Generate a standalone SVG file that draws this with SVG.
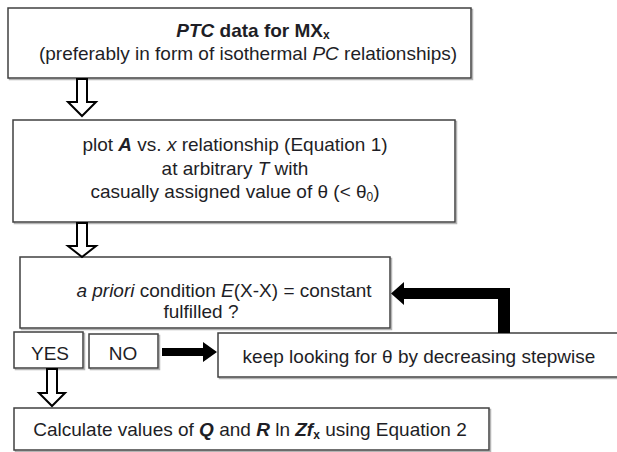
<svg xmlns="http://www.w3.org/2000/svg" width="617" height="452" viewBox="0 0 617 452">
<style>
  .box { fill: #ffffff; stroke: #404040; stroke-width: 1.5; }
  .shadow { fill: none; stroke: #b4b4b4; stroke-width: 1.5; }
  .t { font-family: "Liberation Sans", Arial, sans-serif; font-size: 19px; fill: #1e1e26; text-anchor: middle; }
  .hollow { fill: #ffffff; stroke: #000000; stroke-width: 2; stroke-linejoin: miter; }
  .solid { fill: #000000; stroke: none; }
  .i { font-style: italic; }
  .bi { font-style: italic; font-weight: bold; }
  .sub { font-size: 12px; }
</style>
<rect width="617" height="452" fill="#ffffff"/>

<g id="node-ptc-data">
  <rect class="shadow" x="9.5" y="9.5" width="463" height="70"/>
  <rect class="box" x="8" y="8" width="463" height="70"/>
  <text class="t" x="253" y="37" font-weight="bold" font-size="18"><tspan class="i">PTC</tspan> data for MX<tspan class="sub" dy="2">x</tspan></text>
  <text class="t" x="248" y="60" font-size="18.5">(preferably in form of isothermal <tspan class="i">PC</tspan> relationships)</text>
</g>

<g id="node-plot">
  <rect class="shadow" x="14.5" y="121.5" width="442" height="102"/>
  <rect class="box" x="13" y="120" width="442" height="102"/>
  <text class="t" x="235" y="151" font-size="23.3">plot <tspan class="bi">A</tspan> vs. <tspan class="i">x</tspan> relationship (Equation 1)</text>
  <text class="t" x="235" y="175" font-size="23.3">at arbitrary <tspan class="i">T</tspan> with</text>
  <text class="t" x="235" y="198" font-size="23.3">casually assigned value of θ (&lt; θ<tspan class="sub" font-size="14" dy="3">0</tspan><tspan dy="-3">)</tspan></text>
</g>

<g id="node-condition">
  <rect class="shadow" x="21.5" y="258.5" width="370" height="71"/>
  <rect class="box" x="20" y="257" width="370" height="71"/>
  <text class="t" x="224" y="297" font-size="17.8"><tspan class="i">a priori</tspan> condition <tspan class="i">E</tspan>(X-X) = constant</text>
  <text class="t" x="201" y="318" font-size="17.8">fulfilled ?</text>
</g>

<g id="node-yes">
  <rect class="shadow" x="15.5" y="333.5" width="69" height="36"/>
  <rect class="box" x="14" y="332" width="69" height="36"/>
  <text class="t" x="50" y="360" font-size="17">YES</text>
</g>

<g id="node-no">
  <rect class="shadow" x="90.5" y="335.5" width="69" height="34"/>
  <rect class="box" x="89" y="334" width="69" height="34"/>
  <text class="t" x="123" y="360" font-size="17.5">NO</text>
</g>

<g id="node-keep-looking">
  <rect class="shadow" x="219.5" y="334.5" width="404" height="44"/>
  <rect class="box" x="218" y="333" width="404" height="44"/>
  <text class="t" x="419" y="363" font-size="19.8">keep looking for θ by decreasing stepwise</text>
</g>

<g id="node-calculate">
  <rect class="shadow" x="15.5" y="409.5" width="475" height="42"/>
  <rect class="box" x="14" y="408" width="475" height="42"/>
  <text class="t" x="250" y="436" font-size="18.7">Calculate values of <tspan class="bi">Q</tspan> and <tspan class="bi">R</tspan> ln <tspan class="bi">Zf</tspan><tspan class="sub" font-weight="bold" dy="3">x</tspan><tspan dy="-3"> using Equation 2</tspan></text>
</g>

<g id="connectors">
  <polygon class="hollow" points="77,79 87,79 87,102 96,102 82,116 68,102 77,102"/>
  <polygon class="hollow" points="77,223 87,223 87,246 96,246 82,257 68,246 77,246"/>
  <polygon class="hollow" points="47,369 57,369 57,393 65,393 52,406 39,393 47,393"/>
  <polygon class="solid" points="162,348 203,348 203,342 217,352 203,362 203,356 162,356"/>
  <polygon class="solid" points="510,333 498,333 498,299 404,299 404,305 391,293.5 404,282 404,288 510,288"/>
</g>
</svg>
